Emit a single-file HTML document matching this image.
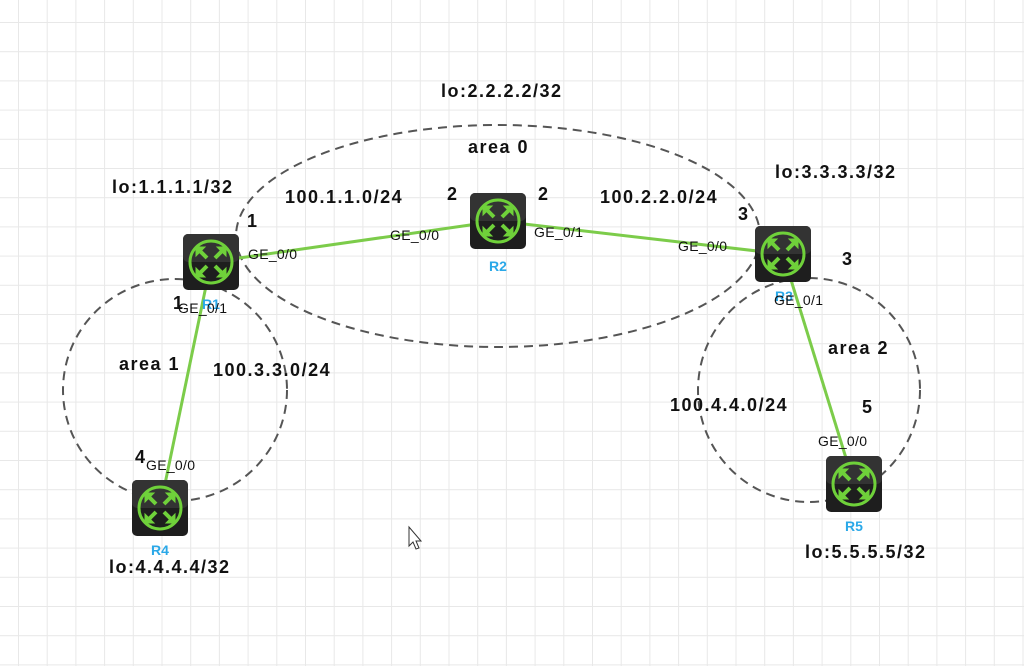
<!DOCTYPE html>
<html><head><style>
html,body{margin:0;padding:0}
body{width:1024px;height:666px;overflow:hidden;background:#fff;position:relative;font-family:"Liberation Sans",Arial,sans-serif}
</style></head><body>
<svg width="1024" height="666" style="position:absolute;left:0;top:0">
<defs>
<pattern id="g" x="18" y="22" width="28.7" height="29.2" patternUnits="userSpaceOnUse">
<rect x="-1" y="0" width="2" height="29.2" fill="#e8e8e8"/>
<rect x="0" y="-1" width="28.7" height="2" fill="#e8e8e8"/>
</pattern>
<g id="rt">
<rect x="-28" y="-28" width="56" height="56" rx="5" fill="#1e1e1e"/>
<rect x="-28" y="-28" width="56" height="28" rx="5" fill="#333"/>
<circle r="21" fill="none" stroke="#6fd13a" stroke-width="3"/>
<g stroke="#6fd13a" stroke-width="4" fill="#6fd13a">
<line x1="-12" y1="-12" x2="-4" y2="-4"/><line x1="12" y1="-12" x2="4" y2="-4"/>
<line x1="-12" y1="12" x2="-4" y2="4"/><line x1="12" y1="12" x2="4" y2="4"/>
<polygon points="-15,-15 -6,-15 -15,-6" stroke-width="1"/>
<polygon points="15,-15 6,-15 15,-6" stroke-width="1"/>
<polygon points="-15,15 -6,15 -15,6" stroke-width="1"/>
<polygon points="15,15 6,15 15,6" stroke-width="1"/>
</g>
</g>
</defs>
<rect width="1024" height="666" fill="url(#g)"/>
<g fill="none" stroke="#555" stroke-width="2" stroke-dasharray="9,6">
<ellipse cx="498" cy="236" rx="262" ry="111"/>
<ellipse cx="175" cy="390" rx="112" ry="111"/>
<ellipse cx="809" cy="390" rx="111" ry="112"/>
</g>
<g stroke="#7ccc4a" stroke-width="3">
<line x1="211" y1="262" x2="498" y2="221"/>
<line x1="498" y1="221" x2="783" y2="254"/>
<line x1="211" y1="262" x2="160" y2="508"/>
<line x1="783" y1="254" x2="854" y2="484"/>
</g>
<use href="#rt" x="211" y="262"/>
<use href="#rt" x="498" y="221"/>
<use href="#rt" x="783" y="254"/>
<use href="#rt" x="160" y="508"/>
<use href="#rt" x="854" y="484"/>
<g font-family="Liberation Sans,Arial,sans-serif" font-weight="bold" font-size="18" letter-spacing="1.5" fill="#111">
<text x="441" y="97">lo:2.2.2.2/32</text>
<text x="468" y="153">area 0</text>
<text x="112" y="193">lo:1.1.1.1/32</text>
<text x="775" y="178">lo:3.3.3.3/32</text>
<text x="285" y="203">100.1.1.0/24</text>
<text x="600" y="203">100.2.2.0/24</text>
<text x="447" y="200">2</text>
<text x="538" y="200">2</text>
<text x="247" y="227">1</text>
<text x="738" y="220">3</text>
<text x="842" y="265">3</text>
<text x="173" y="309">1</text>
<text x="119" y="370">area 1</text>
<text x="213" y="376">100.3.3.0/24</text>
<text x="828" y="354">area 2</text>
<text x="670" y="411">100.4.4.0/24</text>
<text x="862" y="413">5</text>
<text x="135" y="463">4</text>
<text x="109" y="573">lo:4.4.4.4/32</text>
<text x="805" y="558">lo:5.5.5.5/32</text>
</g>
<g font-family="Liberation Sans,Arial,sans-serif" font-weight="bold" font-size="14" fill="#2aa8e8">
<text x="498" y="271" text-anchor="middle">R2</text>
<text x="211" y="309" text-anchor="middle">R1</text>
<text x="784" y="301" text-anchor="middle">R3</text>
<text x="160" y="555" text-anchor="middle">R4</text>
<text x="854" y="531" text-anchor="middle">R5</text>
</g>
<g font-family="Liberation Sans,Arial,sans-serif" font-size="14" letter-spacing="0.3" fill="#111">
<text x="248" y="259">GE_0/0</text>
<text x="390" y="240">GE_0/0</text>
<text x="534" y="237">GE_0/1</text>
<text x="678" y="251">GE_0/0</text>
<text x="178" y="313">GE_0/1</text>
<text x="774" y="305">GE_0/1</text>
<text x="146" y="470">GE_0/0</text>
<text x="818" y="446">GE_0/0</text>
</g>
<path d="M409 527 L409 546 L413 542 L416 549 L419 548 L416 541 L421 541 Z" fill="#fff" stroke="#333" stroke-width="1"/>
</svg>
</body></html>
